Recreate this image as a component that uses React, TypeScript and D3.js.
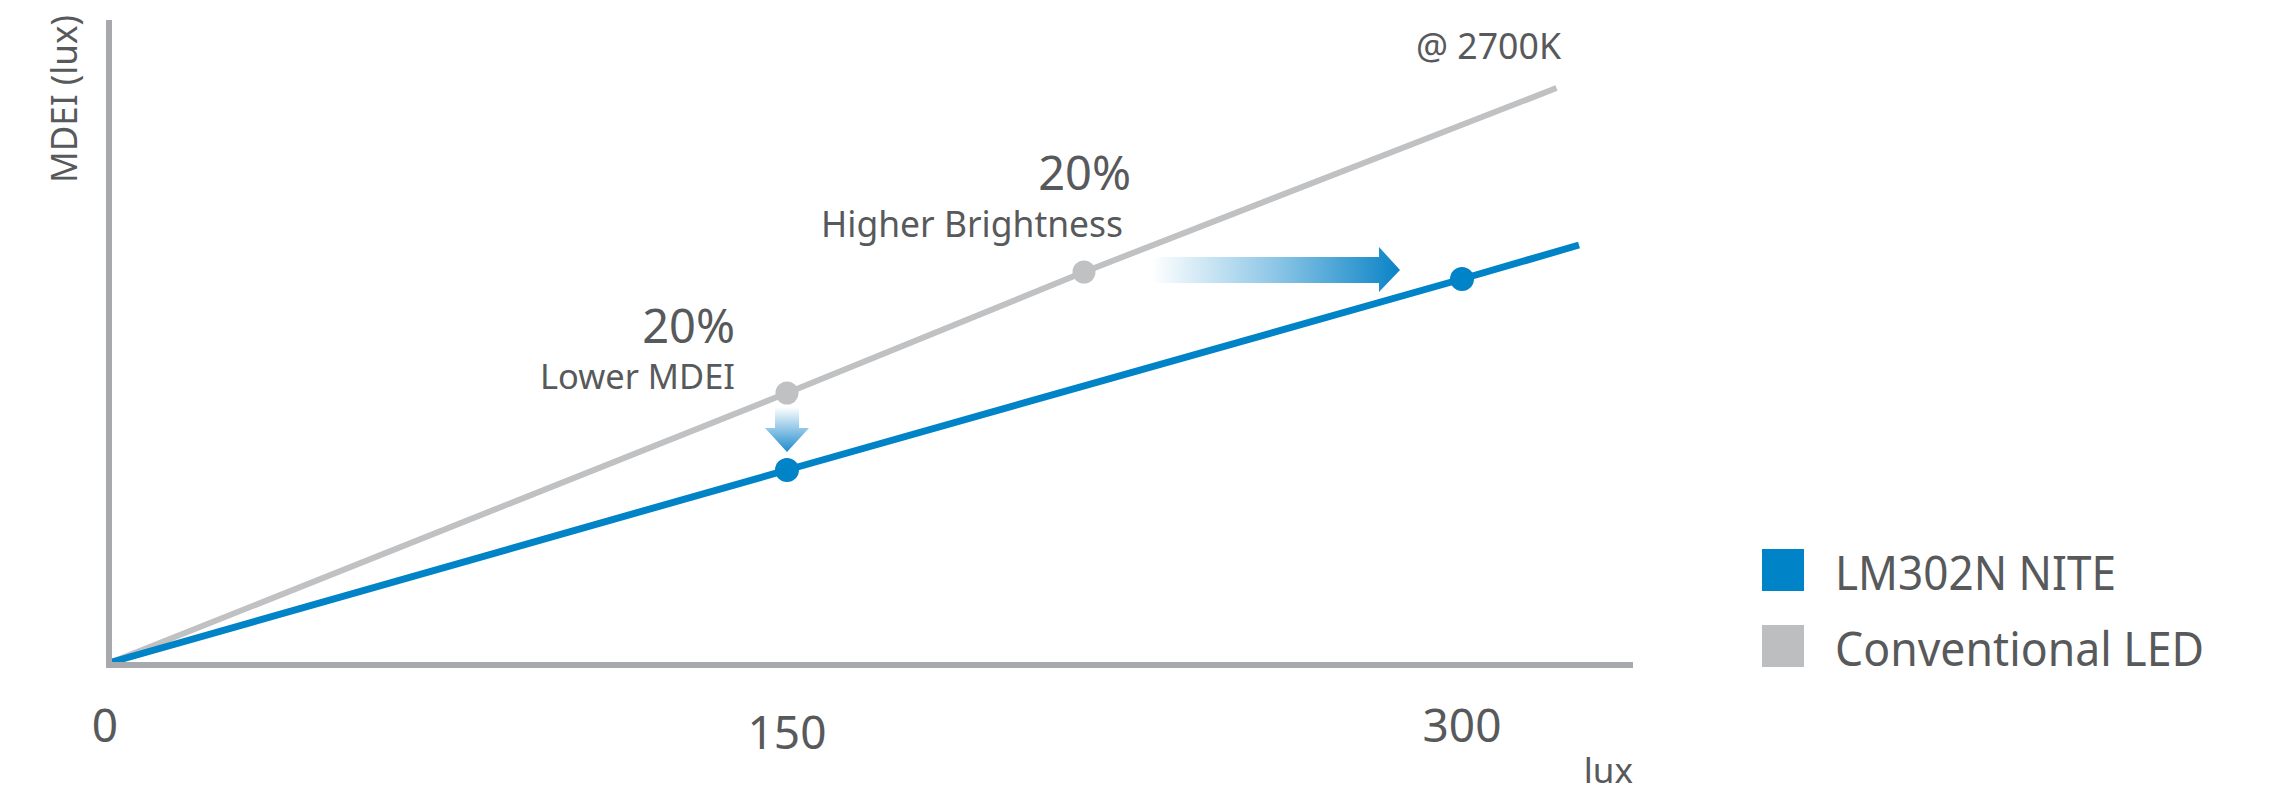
import React from 'react';
import * as d3 from 'd3';

// ---- data ----
const seriesNames = ['LM302N NITE', 'Conventional LED'];
const niteLux = [0, 150, 300, 326];
const niteMdei = [0, 96, 191.5, 208.5];
const conventionalLux = [0, 150, 216, 321];
const conventionalMdei = [0, 134.5, 195, 287];
const markerIndex = [1, 2];
const xTicks = [0, 150, 300];
const xDomainMax = 300;
const xAxisMax = 338;
const yDomainMax = 321;
const annotations = [
  { big: '20%', small: 'Lower MDEI' },
  { big: '20%', small: 'Higher Brightness' },
];
const noteText = '@ 2700K';
const xAxisTitle = 'lux';
const yAxisTitle = 'MDEI (lux)';

const W = 2270;
const H = 795;
const BLUE = '#0083c7';
const GRAY_LINE = '#c0c1c3';
const AXIS = '#a8a9ad';
const TEXT = '#58595b';
const FONT = '"Noto Sans", "Open Sans", sans-serif';

export default function App() {
  const x = d3.scaleLinear().domain([0, xDomainMax]).range([112, 1462]);
  const y = d3.scaleLinear().domain([0, yDomainMax]).range([662, 20]);
  const line = d3
    .line<[number, number]>()
    .x((d) => x(d[0]))
    .y((d) => y(d[1]));

  const nite: [number, number][] = niteLux.map((v, i) => [v, niteMdei[i]]);
  const conv: [number, number][] = conventionalLux.map((v, i) => [v, conventionalMdei[i]]);

  // down arrow (between the two points at the first marker)
  const dX = x(conventionalLux[markerIndex[0]]);
  const dTop = y(conventionalMdei[markerIndex[0]]) + 14;
  const dTip = y(niteMdei[markerIndex[0]]) - 18;
  const downPath = [
    `M${dX - 12},${dTop}`,
    `L${dX + 12},${dTop}`,
    `L${dX + 12},${dTip - 24}`,
    `L${dX + 22},${dTip - 24}`,
    `L${dX},${dTip}`,
    `L${dX - 22},${dTip - 24}`,
    `L${dX - 12},${dTip - 24}`,
    'Z',
  ].join(' ');

  // right arrow (from the conventional point to the NITE point)
  const rStart = x(conventionalLux[markerIndex[1]]) + 68;
  const rTip = x(niteLux[markerIndex[1]]) - 62;
  const rY = y(niteMdei[markerIndex[1]]) - 9;
  const rightPath = [
    `M${rStart},${rY - 13}`,
    `L${rTip - 21},${rY - 13}`,
    `L${rTip - 21},${rY - 23}`,
    `L${rTip},${rY}`,
    `L${rTip - 21},${rY + 22}`,
    `L${rTip - 21},${rY + 13}`,
    `L${rStart},${rY + 13}`,
    'Z',
  ].join(' ');

  const x0 = x(0);
  const y0 = y(0);

  return (
    <svg
      width={W}
      height={H}
      viewBox={`0 0 ${W} ${H}`}
      style={{ position: 'absolute', left: 0, top: 0, display: 'block', background: '#fff' }}
      fontFamily={FONT}
    >
      <defs>
        <linearGradient id="gDown" x1="0" y1="0" x2="0" y2="1">
          <stop offset="0" stopColor="#ffffff" />
          <stop offset="1" stopColor="#1f8bcd" />
        </linearGradient>
        <linearGradient id="gRight" x1="0" y1="0" x2="1" y2="0">
          <stop offset="0" stopColor="#ffffff" />
          <stop offset="0.5" stopColor="#8cc6e6" />
          <stop offset="1" stopColor="#0a83c6" />
        </linearGradient>
      </defs>

      {/* series lines */}
      <path d={line(conv) || ''} fill="none" stroke={GRAY_LINE} strokeWidth={6} />
      <path d={line(nite) || ''} fill="none" stroke={BLUE} strokeWidth={7} />

      {/* axes */}
      <line x1={x0 - 3} y1={y(yDomainMax)} x2={x0 - 3} y2={y0 + 6} stroke={AXIS} strokeWidth={6} />
      <line x1={x0 - 6} y1={y0 + 3} x2={x(xAxisMax)} y2={y0 + 3} stroke={AXIS} strokeWidth={6} />

      {/* markers */}
      {markerIndex.map((i) => (
        <circle key={'c' + i} cx={x(conventionalLux[i])} cy={y(conventionalMdei[i])} r={11.5} fill={GRAY_LINE} />
      ))}
      {markerIndex.map((i) => (
        <circle key={'n' + i} cx={x(niteLux[i])} cy={y(niteMdei[i])} r={12} fill={BLUE} />
      ))}

      {/* arrows */}
      <path d={downPath} fill="url(#gDown)" />
      <path d={rightPath} fill="url(#gRight)" />

      {/* annotations */}
      <text x={735} y={343} textAnchor="end" fontSize={47} fill={TEXT}>
        {annotations[0].big}
      </text>
      <text x={735} y={389} textAnchor="end" fontSize={35} fill={TEXT} textLength={195} lengthAdjust="spacingAndGlyphs">
        {annotations[0].small}
      </text>
      <text x={1131} y={190} textAnchor="end" fontSize={47} fill={TEXT}>
        {annotations[1].big}
      </text>
      <text x={1123} y={237} textAnchor="end" fontSize={36} fill={TEXT} textLength={302} lengthAdjust="spacingAndGlyphs">
        {annotations[1].small}
      </text>
      <text x={1416} y={59} fontSize={36} fill={TEXT} textLength={145} lengthAdjust="spacingAndGlyphs">
        {noteText}
      </text>

      {/* x tick labels */}
      {xTicks.map((t) => (
        <text key={t} x={x(t) - (t === 0 ? 7 : 0)} y={t === 150 ? 749 : 742} textAnchor="middle" fontSize={46} fill={TEXT}>
          {t}
        </text>
      ))}
      <text x={x(xAxisMax)} y={783} textAnchor="end" fontSize={35} fill={TEXT}>
        {xAxisTitle}
      </text>

      {/* y axis title */}
      <text
        transform={`translate(77,183) rotate(-90)`}
        fontSize={36}
        fill={TEXT}
        textLength={168}
        lengthAdjust="spacingAndGlyphs"
      >
        {yAxisTitle}
      </text>

      {/* legend */}
      {seriesNames.map((name, i) => (
        <g key={name} transform={`translate(1762,${549 + i * 76})`}>
          <rect x={0} y={0} width={42} height={42} fill={i === 0 ? BLUE : '#bdbec0'} />
          <text x={73} y={41} fontSize={47} fill={TEXT} textLength={i === 0 ? 281 : 369} lengthAdjust="spacingAndGlyphs">
            {name}
          </text>
        </g>
      ))}
    </svg>
  );
}
